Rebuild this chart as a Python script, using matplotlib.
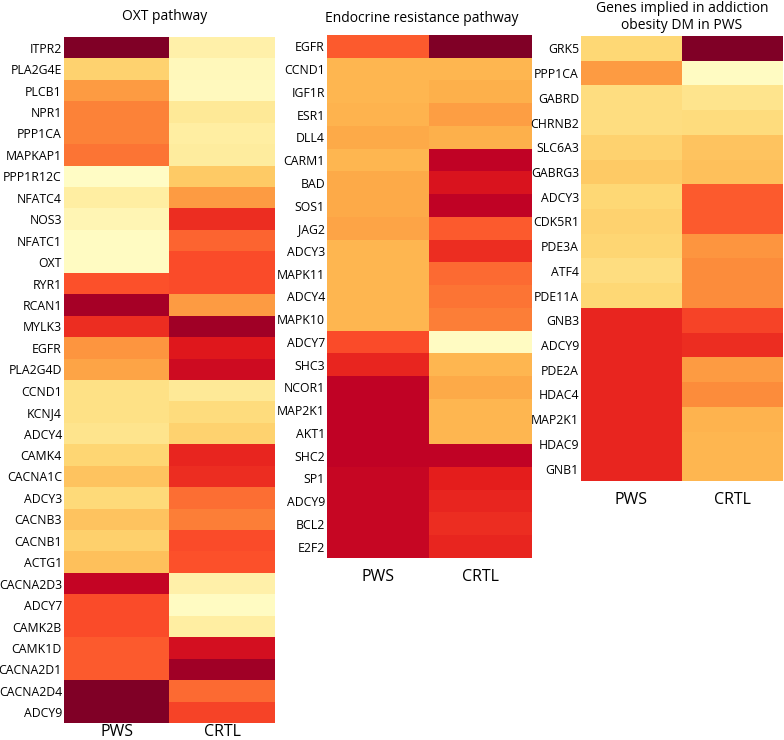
import numpy as np
import matplotlib
matplotlib.use('Agg')
import matplotlib.pyplot as plt

plt.rcParams['font.family'] = ['Open Sans', 'DejaVu Sans']

# Relative expression (0 = lowest, 1 = highest)
oxt_genes = ['ITPR2', 'PLA2G4E', 'PLCB1', 'NPR1', 'PPP1CA', 'MAPKAP1', 'PPP1R12C',
             'NFATC4', 'NOS3', 'NFATC1', 'OXT', 'RYR1', 'RCAN1', 'MYLK3', 'EGFR',
             'PLA2G4D', 'CCND1', 'KCNJ4', 'ADCY4', 'CAMK4', 'CACNA1C', 'ADCY3',
             'CACNB3', 'CACNB1', 'ACTG1', 'CACNA2D3', 'ADCY7', 'CAMK2B', 'CAMK1D',
             'CACNA2D1', 'CACNA2D4', 'ADCY9']
oxt_pws = [1.0, 0.27, 0.45, 0.52, 0.52, 0.55, 0.02, 0.12, 0.07, 0.03, 0.03, 0.62,
           0.92, 0.70, 0.47, 0.42, 0.20, 0.20, 0.18, 0.26, 0.32, 0.24, 0.32, 0.28,
           0.33, 0.85, 0.63, 0.63, 0.60, 0.60, 1.0, 1.0]
oxt_crtl = [0.10, 0.05, 0.04, 0.15, 0.12, 0.13, 0.30, 0.45, 0.70, 0.58, 0.63, 0.63,
            0.45, 0.93, 0.76, 0.82, 0.15, 0.23, 0.27, 0.72, 0.70, 0.56, 0.53, 0.63,
            0.62, 0.10, 0.03, 0.12, 0.80, 0.93, 0.57, 0.65]

endo_genes = ['EGFR', 'CCND1', 'IGF1R', 'ESR1', 'DLL4', 'CARM1', 'BAD', 'SOS1', 'JAG2',
              'ADCY3', 'MAPK11', 'ADCY4', 'MAPK10', 'ADCY7', 'SHC3', 'NCOR1', 'MAP2K1',
              'AKT1', 'SHC2', 'SP1', 'ADCY9', 'BCL2', 'E2F2']
endo_pws = [0.60, 0.36, 0.36, 0.37, 0.40, 0.36, 0.40, 0.40, 0.42, 0.36, 0.36, 0.36,
            0.36, 0.63, 0.72, 0.86, 0.86, 0.86, 0.86, 0.84, 0.84, 0.84, 0.84]
endo_crtl = [1.0, 0.36, 0.38, 0.44, 0.38, 0.86, 0.78, 0.86, 0.60, 0.70, 0.57, 0.55,
             0.53, 0.03, 0.36, 0.40, 0.36, 0.36, 0.86, 0.74, 0.72, 0.70, 0.72]

addict_genes = ['GRK5', 'PPP1CA', 'GABRD', 'CHRNB2', 'SLC6A3', 'GABRG3', 'ADCY3',
                'CDK5R1', 'PDE3A', 'ATF4', 'PDE11A', 'GNB3', 'ADCY9', 'PDE2A', 'HDAC4',
                'MAP2K1', 'HDAC9', 'GNB1']
addict_pws = [0.25, 0.45, 0.22, 0.22, 0.27, 0.30, 0.25, 0.27, 0.26, 0.22, 0.25, 0.72,
              0.72, 0.72, 0.72, 0.72, 0.72, 0.72]
addict_crtl = [1.0, 0.03, 0.18, 0.23, 0.32, 0.33, 0.60, 0.60, 0.47, 0.50, 0.50, 0.65,
               0.70, 0.45, 0.50, 0.37, 0.36, 0.36]

groups = ['PWS', 'CRTL']

W, H = 784, 740
fig = plt.figure(figsize=(W / 100, H / 100), dpi=100)


def px_axes(left, top, right, bottom):
    return fig.add_axes([left / W, (H - bottom) / H, (right - left) / W, (bottom - top) / H])


def heat(box, genes, pws, crtl, xpad):
    ax = px_axes(*box)
    ax.imshow(np.column_stack([pws, crtl]), cmap='YlOrRd', vmin=0, vmax=1,
              aspect='auto', interpolation='nearest')
    ax.set_yticks(range(len(genes)))
    ax.set_yticklabels(genes, fontsize=8.8)
    ax.set_xticks([0, 1])
    ax.set_xticklabels(groups, fontsize=11.5)
    ax.tick_params(length=0, pad=1.5)
    ax.tick_params(axis='x', pad=xpad)
    for s in ax.spines.values():
        s.set_visible(False)
    return ax


heat((64, 37, 275, 723), oxt_genes, oxt_pws, oxt_crtl, 0.5)
heat((327, 35, 532, 558), endo_genes, endo_pws, endo_crtl, 8)
heat((581, 36, 783, 481), addict_genes, addict_pws, addict_crtl, 8)

fig.text(165 / W, 1 - 17 / H, 'OXT pathway', ha='center', va='center', fontsize=10)
fig.text(422 / W, 1 - 18 / H, 'Endocrine resistance pathway', ha='center', va='center',
         fontsize=10)
fig.text(682 / W, 1 - 17 / H, 'Genes implied in addiction\nobesity DM in PWS',
         ha='center', va='center', fontsize=10, linespacing=1.1)

fig.savefig('out.png', dpi=100)
